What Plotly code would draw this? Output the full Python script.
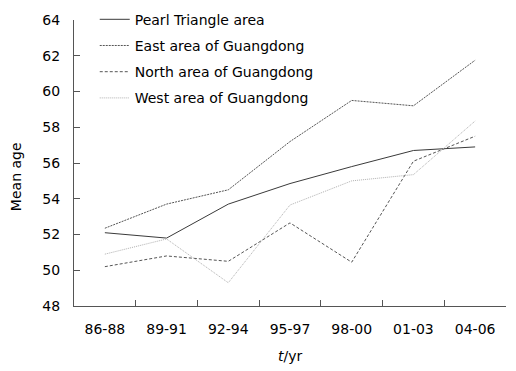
import plotly.graph_objects as go

periods = ["86-88", "89-91", "92-94", "95-97", "98-00", "01-03", "04-06"]
pearl = [52.1, 51.8, 53.7, 54.85, 55.8, 56.7, 56.9]
east = [52.35, 53.7, 54.5, 57.2, 59.5, 59.2, 61.75]
north = [50.2, 50.8, 50.5, 52.65, 50.45, 56.1, 57.5]
west = [50.9, 51.75, 49.3, 53.65, 55.0, 55.35, 58.35]

series = [
    ("Pearl Triangle area", pearl, "#3a3a3a", "solid"),
    ("East area of Guangdong", east, "#555555", "2px,1px"),
    ("North area of Guangdong", north, "#555555", "3px,2px"),
    ("West area of Guangdong", west, "#b0b0b0", "1px,1px"),
]

fig = go.Figure()
for i, (name, vals, col, dash) in enumerate(series):
    fig.add_trace(go.Scatter(
        x=periods, y=vals, name=name, mode="lines",
        line=dict(color=col, width=1, dash=dash),
        legendgroup=f"g{i}",
    ))

font = dict(family="DejaVu Sans, Verdana, sans-serif", size=14, color="#000000")
fig.update_layout(
    width=516, height=371,
    margin=dict(l=74, r=10, t=20, b=65, autoexpand=False),
    paper_bgcolor="white", plot_bgcolor="white",
    font=font,
    showlegend=True,
    legend=dict(
        x=0.048, y=1.057, xanchor="left", yanchor="top",
        bgcolor="rgba(0,0,0,0)", font=font,
        traceorder="grouped", tracegroupgap=5,
        itemwidth=30,
    ),
    xaxis=dict(
        type="category", range=[-0.5, 6.5],
        showline=True, linecolor="#555555", linewidth=1,
        ticks="inside", ticklen=6, tickcolor="#555555", tickson="boundaries",
        showgrid=False, zeroline=False, automargin=False,
        ticklabelstandoff=10,
        tickfont=font,
    ),
    yaxis=dict(
        range=[48, 64], dtick=2, tick0=48,
        showline=True, linecolor="#555555", linewidth=1,
        ticks="inside", ticklen=6, tickcolor="#555555",
        showgrid=False, zeroline=False, automargin=False,
        ticklabelstandoff=10,
        tickfont=font,
    ),
    annotations=[
        dict(text="<i>t</i>/yr", xref="paper", yref="paper", x=0.5, y=-0.176,
             xanchor="center", yanchor="middle", showarrow=False, font=font),
        dict(text="Mean age", xref="paper", yref="paper", x=-0.134, y=0.451,
             xanchor="center", yanchor="middle", showarrow=False, font=font,
             textangle=-90),
    ],
)

fig.write_html("out.html", config={"displayModeBar": False},
               post_script="document.body.style.margin='0px';")
